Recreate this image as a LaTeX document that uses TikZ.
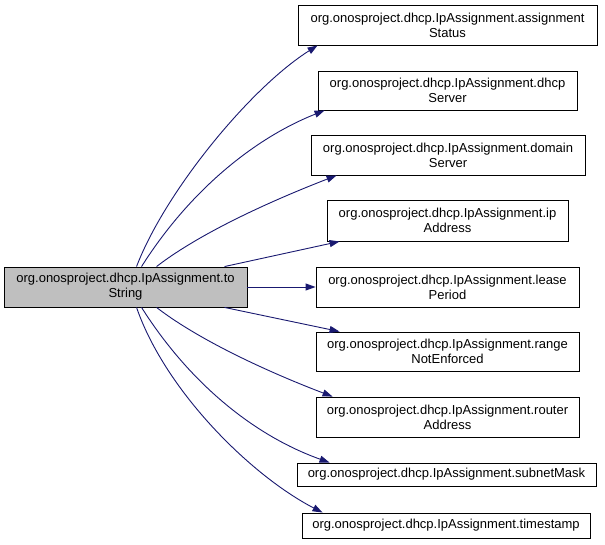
\documentclass[tikz,border=0pt]{standalone}
\usepackage{fontspec}
\setmainfont{Liberation Sans}
\usetikzlibrary{arrows.meta,calc}
\definecolor{edgecol}{RGB}{25,25,112}
\definecolor{maingray}{RGB}{191,191,191}
\begin{document}
\begin{tikzpicture}[x=1pt,y=-1pt,
  box/.style={draw=black, line width=0.9pt, fill=white, align=center, inner sep=0pt,
    font=\fontsize{13}{15}\selectfont},
  mainbox/.style={box, fill=maingray},
  edge/.style={draw=edgecol, line width=0.9pt, -{Triangle[length=10pt,width=7pt]}}]
\useasboundingbox (0,0) rectangle (605,545);
\node[mainbox, minimum width=243pt, minimum height=40pt] (main) at (125.5,287) {org.onosproject.dhcp.IpAssignment.to\\String};
\node[box, minimum width=299pt, minimum height=40pt] (a1) at (447.5,25) {org.onosproject.dhcp.IpAssignment.assignment\\Status};
\node[box, minimum width=259pt, minimum height=39pt] (a2) at (447.5,90.5) {org.onosproject.dhcp.IpAssignment.dhcp\\Server};
\node[box, minimum width=274pt, minimum height=40pt] (a3) at (448,155) {org.onosproject.dhcp.IpAssignment.domain\\Server};
\node[box, minimum width=241pt, minimum height=41pt] (a4) at (447.5,220.5) {org.onosproject.dhcp.IpAssignment.ip\\Address};
\node[box, minimum width=263pt, minimum height=40pt] (a5) at (447.5,287) {org.onosproject.dhcp.IpAssignment.lease\\Period};
\node[box, minimum width=263pt, minimum height=39pt] (a6) at (447.5,351.5) {org.onosproject.dhcp.IpAssignment.range\\NotEnforced};
\node[box, minimum width=263pt, minimum height=40pt] (a7) at (447.5,417) {org.onosproject.dhcp.IpAssignment.router\\Address};
\node[box, minimum width=299pt, minimum height=23pt] (a8) at (446.5,474.5) {org.onosproject.dhcp.IpAssignment.subnetMask};
\node[box, minimum width=288pt, minimum height=25pt] (a9) at (446,525.5) {org.onosproject.dhcp.IpAssignment.timestamp};

\draw[edge] ($(main.north west)+(133,0)$) .. controls (165,192) and (250,88) .. ($(a1.south west)+(20,0)$);
\draw[edge] ($(main.north west)+(138,0)$) .. controls (190,190) and (255,138) .. ($(a2.south west)+(7,0)$);
\draw[edge] ($(main.north west)+(153,0)$) .. controls (204,230) and (281,197) .. ($(a3.south west)+(26,0)$);
\draw[edge] ($(main.north west)+(221,0)$) -- ($(a4.south west)+(13,0)$);
\draw[edge] (main.east) -- (main.east -| a5.west);
\draw[edge] ($(main.south west)+(221,0)$) -- ($(a6.north west)+(24,0)$);
\draw[edge] ($(main.south west)+(153,0)$) .. controls (204,344) and (281,377) .. ($(a7.north west)+(17,0)$);
\draw[edge] ($(main.south west)+(138,0)$) .. controls (190,384) and (255,436) .. ($(a8.north west)+(33,0)$);
\draw[edge] ($(main.south west)+(133,0)$) .. controls (165,390) and (250,475) .. ($(a9.north west)+(21,0)$);
\end{tikzpicture}
\end{document}
